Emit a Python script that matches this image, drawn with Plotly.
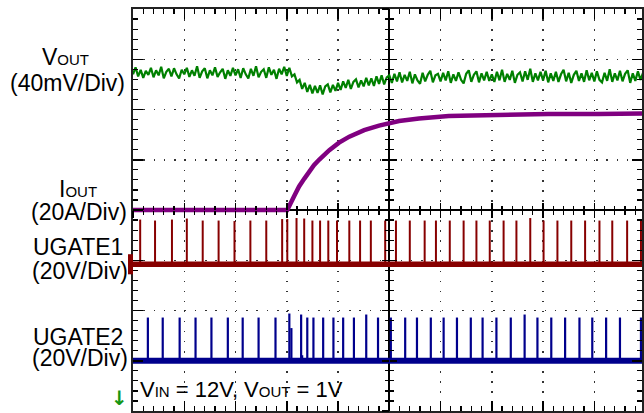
import plotly.graph_objects as go

# ---------------- data (time in screen divisions, 0 = screen centre; amplitude in divisions) -------------
vout_t0 = -5.0
vout_dt = 0.05
vout = [
    2.70, 2.84, 2.66, 2.79, 2.63, 2.77, 2.69, 2.83, 2.64, 2.78, 2.68, 2.85, 2.62, 2.75, 2.81, 2.66, 2.82, 2.70, 2.62, 2.79,
    2.70, 2.83, 2.65, 2.78, 2.67, 2.86, 2.63, 2.76, 2.82, 2.62, 2.78, 2.68, 2.84, 2.65, 2.74, 2.81, 2.61, 2.78, 2.67, 2.83,
    2.68, 2.80, 2.63, 2.82, 2.70, 2.62, 2.81, 2.67, 2.86, 2.64, 2.75, 2.80, 2.63, 2.84, 2.69, 2.79, 2.61, 2.81, 2.70, 2.85,
    2.67, 2.83, 2.66, 2.70, 2.54, 2.59, 2.41, 2.53, 2.35, 2.49, 2.32, 2.47, 2.33, 2.48, 2.30, 2.46, 2.50, 2.34, 2.49, 2.37,
    2.53, 2.39, 2.56, 2.43, 2.59, 2.41, 2.55, 2.60, 2.44, 2.58, 2.46, 2.63, 2.48, 2.62, 2.47, 2.66, 2.51, 2.68, 2.50, 2.64,
    2.68, 2.53, 2.71, 2.56, 2.74, 2.54, 2.69, 2.57, 2.75, 2.52, 2.70, 2.58, 2.51, 2.73, 2.56, 2.69, 2.77, 2.54, 2.68, 2.71,
    2.56, 2.73, 2.58, 2.76, 2.53, 2.70, 2.57, 2.74, 2.59, 2.52, 2.71, 2.78, 2.55, 2.69, 2.76, 2.54, 2.72, 2.58, 2.75, 2.57,
    2.70, 2.55, 2.75, 2.58, 2.79, 2.55, 2.71, 2.59, 2.77, 2.53, 2.69, 2.74, 2.56, 2.76, 2.59, 2.81, 2.55, 2.72, 2.58, 2.75,
    2.58, 2.77, 2.54, 2.72, 2.57, 2.75, 2.55, 2.70, 2.79, 2.56, 2.73, 2.53, 2.69, 2.77, 2.57, 2.72, 2.55, 2.78, 2.58, 2.73,
    2.56, 2.76, 2.59, 2.54, 2.73, 2.57, 2.80, 2.55, 2.72, 2.58, 2.77, 2.56, 2.71, 2.78, 2.53, 2.72, 2.57, 2.76, 2.59, 2.73,
]

iout_t = [-5.0, -1.99, -1.85, -1.76, -1.66, -1.56, -1.47, -1.37, -1.17, -0.98, -0.78, -0.49, -0.20,
          0.19, 0.58, 1.16, 2.13, 3.10, 4.07, 4.93]
iout = [0.0, 0.0, 0.29, 0.47, 0.62, 0.77, 0.89, 1.00, 1.19, 1.34, 1.46, 1.59, 1.68,
        1.77, 1.82, 1.87, 1.90, 1.91, 1.91, 1.92]

ugate1_base = -1.08
ugate1_t = [-4.86, -4.57, -4.24, -3.95, -3.64, -3.33, -3.02, -2.71, -2.40, -2.09,
            -1.99, -1.81, -1.66, -1.50, -1.35, -1.19, -1.02, -0.78, -0.57, -0.36,
            -0.08, 0.13, 0.40, 0.69, 0.91, 1.18, 1.45, 1.70, 1.96, 2.23,
            2.48, 2.75, 3.01, 3.28, 3.55, 3.82, 4.10, 4.35, 4.64, 4.91]
ugate1_top = [-0.19, -0.21, -0.19, -0.17, -0.21, -0.21, -0.22, -0.21, -0.21, -0.18,
              -0.18, -0.16, -0.17, -0.21, -0.21, -0.21, -0.21, -0.21, -0.21, -0.21,
              -0.21, -0.21, -0.21, -0.21, -0.21, -0.21, -0.21, -0.21, -0.21, -0.21,
              -0.21, -0.16, -0.21, -0.21, -0.21, -0.21, -0.21, -0.21, -0.21, -0.21]

ugate2_base = -3.0
ugate2_t = [-4.71, -4.42, -4.09, -3.78, -3.47, -3.15, -2.86, -2.55, -2.22, -1.95,
            -1.91, -1.72, -1.70, -1.60, -1.48, -1.29, -1.09, -0.90, -0.69, -0.45,
            -0.22, 0.03, 0.31, 0.54, 0.81, 1.06, 1.32, 1.59, 1.82, 2.09,
            2.37, 2.64, 2.89, 3.16, 3.43, 3.71, 3.96, 4.23, 4.50, 4.91]
ugate2_top = [-2.14, -2.14, -2.14, -2.14, -2.14, -2.14, -2.14, -2.14, -2.14, -2.06,
              -2.35, -2.08, -2.89, -2.14, -2.14, -2.14, -2.14, -2.14, -2.14, -2.08,
              -2.14, -2.14, -2.14, -2.14, -2.14, -2.14, -2.14, -2.14, -2.14, -2.14,
              -2.14, -2.08, -2.14, -2.14, -2.14, -2.14, -2.14, -2.14, -2.14, -2.14]

x_range = [-5.0, 4.93]
y_range = [-4.0, 4.0]

labels = [
    ("V<span style='font-size:15px'>OUT</span>", 65, 57),
    ("(40mV/Div)", 67, 83),
    ("I<span style='font-size:15px'>OUT</span>", 78, 189),
    ("(20A/Div)", 79, 212),
    ("UGATE1", 78, 247),
    ("(20V/Div)", 79.5, 271),
    ("UGATE2", 78, 337),
    ("(20V/Div)", 79.5, 358),
]
cond_text = ("V<span style='font-size:15px'>IN</span> = 12V, "
             "V<span style='font-size:15px'>OUT</span> = 1V")

# ---------------- figure ----------------
W, H = 644, 413
ML, MT, MB = 133, 9, 1.5
PW, PH = W - ML, H - MT - MB


def px2paper(px, py):
    return (px - ML) / PW, (H - MB - py) / PH


GREEN = "rgb(0,128,0)"
PURPLE = "rgb(128,0,128)"
RED = "rgb(135,0,0)"
BLUE = "rgb(0,0,140)"

fig = go.Figure()

vout_x = [vout_t0 + i * vout_dt for i in range(len(vout))]
fig.add_trace(go.Scatter(x=vout_x, y=vout, mode="lines", line=dict(color=GREEN, width=2.2)))
fig.add_trace(go.Scatter(x=iout_t, y=iout, mode="lines", line=dict(color=PURPLE, width=4.5)))


def spikes(ts, tops, base):
    xs, ys = [], []
    for t, top in zip(ts, tops):
        xs += [t, t, None]
        ys += [base, top, None]
    return xs, ys


sx, sy = spikes(ugate1_t, ugate1_top, ugate1_base)
fig.add_trace(go.Scatter(x=x_range, y=[ugate1_base, ugate1_base], mode="lines",
                         line=dict(color=RED, width=5.5)))
fig.add_trace(go.Scatter(x=sx, y=sy, mode="lines", line=dict(color=RED, width=2)))

sx, sy = spikes(ugate2_t, ugate2_top, ugate2_base)
fig.add_trace(go.Scatter(x=x_range, y=[ugate2_base, ugate2_base], mode="lines",
                         line=dict(color=BLUE, width=6)))
fig.add_trace(go.Scatter(x=sx, y=sy, mode="lines", line=dict(color=BLUE, width=2.2)))

# helper traces so the centre-line tick axes are drawn
for xa, ya in (("x2", "y"), ("x3", "y"), ("x", "y2"), ("x", "y3")):
    fig.add_trace(go.Scatter(x=[], y=[], xaxis=xa, yaxis=ya, mode="lines", hoverinfo="skip"))

for tr in fig.data:
    tr.showlegend = False
    tr.hoverinfo = "skip"

edge = dict(showticklabels=False, ticks="inside", ticklen=10, tickwidth=1.5, tickcolor="black",
            showline=True, linecolor="#222", linewidth=1.8, mirror="ticks",
            showgrid=True, gridcolor="#333", gridwidth=1.5,
            zeroline=True, zerolinecolor="black", zerolinewidth=2.2,
            dtick=1, tick0=0, fixedrange=True,
            minor=dict(dtick=0.2, tick0=0, ticks="inside", ticklen=5, tickwidth=1.2,
                       tickcolor="black", showgrid=False))


def centre(ticks):
    return dict(showticklabels=False, showline=False, showgrid=False, zeroline=False,
                dtick=1, tick0=0, ticks=ticks, ticklen=7, tickwidth=1.5, tickcolor="black",
                fixedrange=True,
                minor=dict(dtick=0.2, tick0=0, ticks=ticks, ticklen=4, tickwidth=1.2,
                           tickcolor="black", showgrid=False))


xc = (0 - x_range[0]) / (x_range[1] - x_range[0])

fig.update_layout(
    width=W, height=H,
    margin=dict(l=ML, r=0, t=MT, b=MB, pad=0),
    paper_bgcolor="white", plot_bgcolor="white",
    showlegend=False,
    font=dict(family="Liberation Sans, Arial, sans-serif", color="black"),
    xaxis=dict(range=x_range, griddash="1.5px,8.56px", **edge),
    yaxis=dict(range=y_range, griddash="1.5px,8.79px", **edge),
    xaxis2=dict(range=x_range, overlaying="x", anchor="free", position=0.5, side="bottom", **centre("outside")),
    xaxis3=dict(range=x_range, overlaying="x", anchor="free", position=0.5, side="bottom", **centre("inside")),
    yaxis2=dict(range=y_range, overlaying="y", anchor="free", position=xc, side="left", **centre("outside")),
    yaxis3=dict(range=y_range, overlaying="y", anchor="free", position=xc, side="left", **centre("inside")),
)

# channel ground marker for UGATE1 (left of the screen)
fig.add_shape(type="rect", xref="paper", yref="y", x0=-5 / PW, x1=0,
              y0=ugate1_base - 0.2, y1=ugate1_base + 0.2,
              fillcolor=RED, line=dict(width=0), layer="above")

for txt, cx, cy in labels:
    ax, ay = px2paper(cx, cy)
    fig.add_annotation(text=txt, x=ax, y=ay, xref="paper", yref="paper",
                       xanchor="center", yanchor="middle", showarrow=False,
                       font=dict(size=23, color="black"))

ax, ay = px2paper(138, 390)
fig.add_annotation(text=cond_text, x=ax, y=ay, xref="paper", yref="paper",
                   xanchor="left", yanchor="middle", showarrow=False,
                   font=dict(size=22, color="black"))

ax, ay = px2paper(119, 398)
fig.add_annotation(text="<b>↓</b>", x=ax, y=ay, xref="paper", yref="paper",
                   xanchor="center", yanchor="middle", showarrow=False,
                   font=dict(size=20, color="rgb(20,150,20)", family="DejaVu Sans"))

fig.write_html(
    "out.html",
    config={"displayModeBar": False, "staticPlot": True},
    post_script="document.body.style.margin='0';document.body.style.padding='0';"
                "document.body.style.overflow='hidden';"
                "document.documentElement.style.overflow='hidden';",
)
